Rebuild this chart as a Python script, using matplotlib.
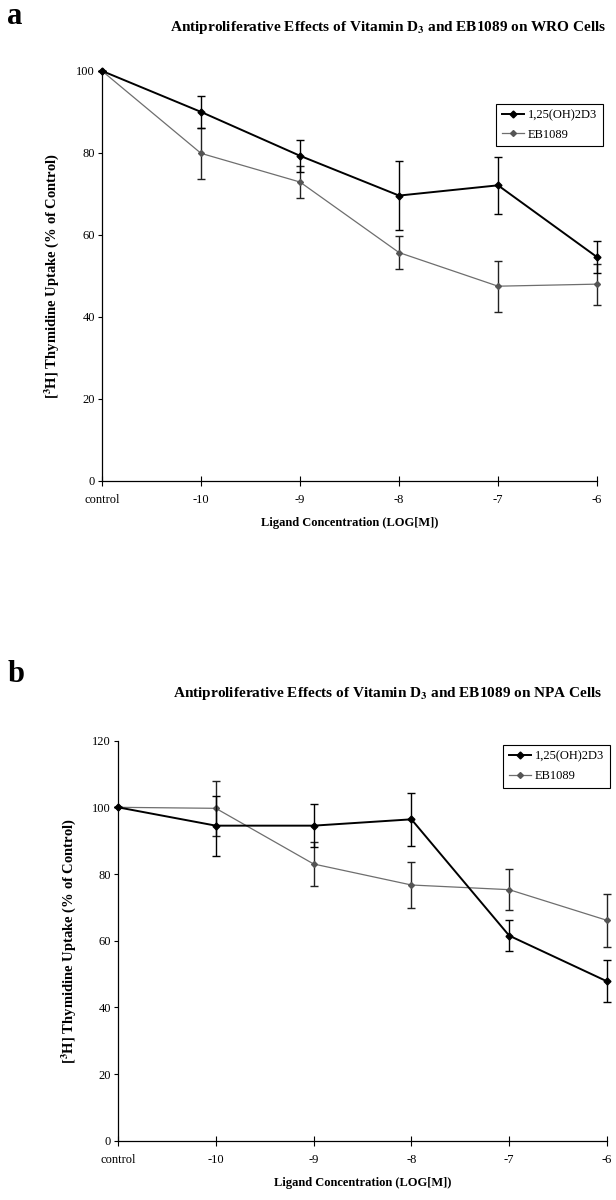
import numpy as np
import matplotlib
matplotlib.use("Agg")
import matplotlib.pyplot as plt
from matplotlib.lines import Line2D

plt.rcParams['font.family'] = ['Liberation Serif', 'DejaVu Serif']
plt.rcParams['mathtext.fontset'] = 'stix'

# x positions: control, -10 ... -6 (log M)
x_labels = ['control', '-10', '-9', '-8', '-7', '-6']
x_pos = np.arange(len(x_labels))

# panel a: WRO cells
wro_d3 = [100, 90.0, 79.3, 69.6, 72.1, 54.6]
wro_d3_err = [0, 4.0, 3.9, 8.5, 7.0, 3.8]
wro_eb = [100, 79.9, 72.9, 55.7, 47.5, 48.0]
wro_eb_err = [0, 6.2, 3.9, 4.1, 6.2, 5.0]

# panel b: NPA cells
npa_d3 = [100, 94.5, 94.5, 96.4, 61.5, 47.8]
npa_d3_err = [0, 9.0, 6.4, 8.0, 4.7, 6.3]
npa_eb = [100, 99.7, 83.0, 76.7, 75.3, 66.1]
npa_eb_err = [0, 8.3, 6.6, 7.0, 6.2, 8.0]

fig = plt.figure(figsize=(6.16, 12), dpi=100)

ylab = '[$^{\\mathbf{3}}$H] Thymidine Uptake (% of Control)'

d3_style = dict(color='black', lw=1.4, marker='D', ms=3.5)
eb_style = dict(color='#6e6e6e', lw=0.9, marker='D', ms=3, mfc='#555555', mec='#555555')


def draw_panel(ax, d3, d3_err, eb, eb_err, ymax, leg_anchor, ylab_x,
               title_y, title, letter, letter_y):
    ax.errorbar(x_pos, eb, yerr=eb_err, ecolor='#222222', elinewidth=1.0,
                capsize=3, capthick=1.0, zorder=2, **eb_style)
    ax.errorbar(x_pos, d3, yerr=d3_err, ecolor='black', elinewidth=1.0,
                capsize=3, capthick=1.0, zorder=3, **d3_style)
    ax.set_xlim(0, 5)
    ax.set_ylim(0, ymax)
    ax.set_yticks(np.arange(0, ymax + 1, 20))
    ax.set_xticks(x_pos)
    ax.set_xticklabels(x_labels)
    ax.spines['top'].set_visible(False)
    ax.spines['right'].set_visible(False)
    for s in ('left', 'bottom'):
        ax.spines[s].set_linewidth(0.9)
    ax.tick_params(axis='y', direction='out', length=3, width=0.8, labelsize=9, pad=2)
    ax.tick_params(axis='x', direction='inout', length=7, width=0.8, labelsize=9, pad=6)
    ax.set_ylabel(ylab, fontsize=10.5, fontweight='bold')
    ax.yaxis.set_label_coords(ylab_x, 0.5)
    ax.set_xlabel('Ligand Concentration (LOG[M])', fontsize=9, fontweight='bold', labelpad=8)
    handles = [Line2D([], [], **d3_style), Line2D([], [], **eb_style)]
    leg = ax.legend(handles, ['1,25(OH)2D3', 'EB1089'], loc='upper right',
                    bbox_to_anchor=leg_anchor, borderaxespad=0,
                    fontsize=9, frameon=True, fancybox=False, framealpha=1,
                    edgecolor='black', handlelength=1.8, borderpad=0.45,
                    labelspacing=0.6, handletextpad=0.3)
    leg.get_frame().set_linewidth(0.8)
    for c in ax.containers:
        for bar in c[2]:
            bar.set_clip_on(False)
    for ln in ax.lines:
        ln.set_clip_on(False)
    fig.text(0.63, title_y, title, ha='center', va='center', fontsize=11, fontweight='bold')
    fig.text(0.012, letter_y, letter, ha='left', va='center', fontsize=22, fontweight='bold')


ax1 = fig.add_axes([0.1656, 0.5992, 0.8036, 0.3417])
draw_panel(ax1, wro_d3, wro_d3_err, wro_eb, wro_eb_err, 100, (1.012, 0.92), -0.083,
           1 - 27 / 1200,
           'Antiproliferative Effects of Vitamin D$_{\\mathbf{3}}$ and EB1089 on WRO Cells',
           'a', 1 - 17 / 1200)

ax2 = fig.add_axes([0.1916, 0.0494, 0.7938, 0.3334])
draw_panel(ax2, npa_d3, npa_d3_err, npa_eb, npa_eb_err, 120, (1.006, 0.989), -0.082,
           1 - 693 / 1200,
           'Antiproliferative Effects of Vitamin D$_{\\mathbf{3}}$ and EB1089 on NPA Cells',
           'b', 1 - 675 / 1200)

fig.savefig('out.png', dpi=100)
